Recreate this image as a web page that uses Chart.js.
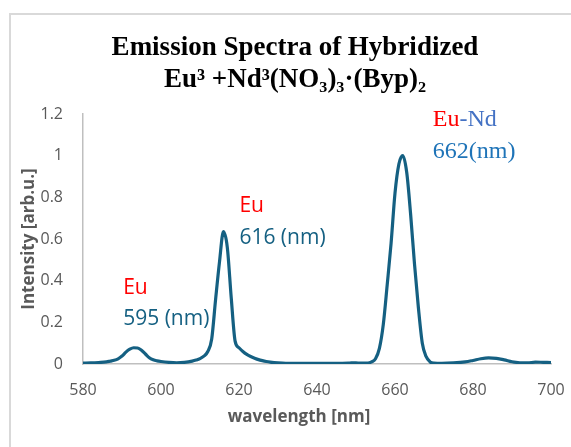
<!DOCTYPE html>
<html>
<head>
<meta charset="utf-8">
<script src="https://cdn.jsdelivr.net/npm/chart.js@4.4.1/dist/chart.umd.min.js"></script>
<style>
  html, body { margin: 0; padding: 0; background: #fff; overflow: hidden; }
  #wrap { position: relative; width: 571px; height: 447px; }
</style>
</head>
<body>
<div id="wrap"><canvas id="spectrumChart" width="571" height="447"></canvas></div>
<script>
// spectrum (nm, arb.u.)
const wavelength = [
  580, 582, 584, 586, 587, 588, 589, 590, 591, 592,
  593, 594, 595, 596, 597, 598, 599, 600, 602, 604,
  606, 608, 609, 610, 611, 612, 613, 614, 615, 616,
  617, 618, 619, 620, 621, 622, 623, 624, 625, 626,
  627, 628, 630, 632, 635, 640, 645, 648, 650, 651,
  653, 654, 655, 656, 657, 658, 659, 660, 661, 662,
  663, 664, 665, 666, 667, 668, 669, 670, 672, 675,
  678, 680, 682, 684, 686, 688, 690, 692, 694, 696,
  698, 700
];
const intensity = [
  0.004, 0.005, 0.007, 0.010, 0.014, 0.018, 0.025, 0.038, 0.057, 0.071,
  0.078, 0.077, 0.066, 0.048, 0.030, 0.020, 0.015, 0.012, 0.008, 0.006,
  0.008, 0.014, 0.019, 0.026, 0.038, 0.060, 0.120, 0.310, 0.490, 0.635,
  0.560, 0.320, 0.110, 0.078, 0.060, 0.046, 0.036, 0.028, 0.021, 0.016,
  0.012, 0.009, 0.005, 0.003, 0.003, 0.003, 0.003, 0.004, 0.006, 0.004,
  0.004, 0.010, 0.025, 0.075, 0.190, 0.380, 0.580, 0.820, 0.960, 1.000,
  0.920, 0.720, 0.480, 0.270, 0.100, 0.035, 0.010, 0.004, 0.003, 0.005,
  0.010, 0.017, 0.025, 0.029, 0.027, 0.020, 0.011, 0.006, 0.005, 0.009,
  0.008, 0.007
];
const xTicks = [580, 600, 620, 640, 660, 680, 700];
const yTicks = [0, 0.2, 0.4, 0.6, 0.8, 1, 1.2];

const titleLines = ['Emission Spectra of Hybridized', 'Eu\u00B3 +Nd\u00B3(NO\u2083)\u2083\u00B7(Byp)\u2082'];
const xTitle = 'wavelength [nm]';
const yTitle = 'Intensity [arb.u.]';

// peak labels, placed in data units
const peakLabels = [
  { x: 590.3, y: 0.366, parts: [['Eu', '#ff0000']], font: '21px "Open Sans"' },
  { x: 590.3, y: 0.218, parts: [['595 (nm)', '#156082']], font: '21px "Open Sans"' },
  { x: 620.1, y: 0.757, parts: [['Eu', '#ff0000']], font: '21px "Open Sans"' },
  { x: 620.1, y: 0.607, parts: [['616 (nm)', '#156082']], font: '21px "Open Sans"' },
  { x: 669.7, y: 1.171, parts: [['Eu', '#ff0000'], ['-Nd', '#4472c4']], font: '24px "Liberation Serif"' },
  { x: 669.7, y: 1.018, parts: [['662(nm)', '#1f74b8']], font: '24px "Liberation Serif"' }
];

const greyText = '#595959';

const decorPlugin = {
  id: 'decor',
  beforeDraw(chart) {
    const ctx = chart.ctx;
    ctx.save();
    // outer frame (the chart is cropped, only top and left edges show)
    ctx.strokeStyle = '#d9d9d9';
    ctx.lineWidth = 2;
    ctx.strokeRect(10, 14, 700, 600);
    ctx.restore();
  },
  afterDraw(chart) {
    const ctx = chart.ctx;
    const xs = chart.scales.x, ys = chart.scales.y;
    ctx.save();
    // main title
    ctx.fillStyle = '#000';
    ctx.font = 'bold 27px "Liberation Serif"';
    ctx.textAlign = 'center';
    ctx.textBaseline = 'alphabetic';
    ctx.fillText(titleLines[0], 295, 55);
    ctx.fillText(titleLines[1], 295, 87);

    // x axis title
    ctx.fillStyle = greyText;
    ctx.font = 'bold 17px "Open Sans"';
    ctx.textBaseline = 'middle';
    ctx.fillText(xTitle, 299, 417);

    // peak labels
    ctx.textAlign = 'left';
    peakLabels.forEach(l => {
      ctx.font = l.font;
      let px = xs.getPixelForValue(l.x);
      const py = ys.getPixelForValue(l.y);
      l.parts.forEach(([txt, col]) => {
        ctx.fillStyle = col;
        ctx.fillText(txt, px, py);
        px += ctx.measureText(txt).width;
      });
    });
    ctx.restore();
  }
};

const ctx = document.getElementById('spectrumChart').getContext('2d');
const spectrumChart = new Chart(ctx, {
  type: 'line',
  data: {
    datasets: [{
      label: 'Emission',
      data: wavelength.map((w, i) => ({ x: w, y: intensity[i] })),
      borderColor: '#156082',
      borderWidth: 3.2,
      pointRadius: 0,
      fill: false,
      cubicInterpolationMode: 'monotone'
    }]
  },
  options: {
    responsive: false,
    animation: false,
    layout: { padding: { top: 114, left: 15, right: 20, bottom: 0 } },
    plugins: {
      legend: { display: false },
      tooltip: { enabled: false }
    },
    scales: {
      x: {
        type: 'linear',
        min: 580,
        max: 700,
        afterBuildTicks: s => { s.ticks = xTicks.map(v => ({ value: v })); },
        afterFit: s => { s.height = 83; s.paddingLeft = 0; s.paddingRight = 0; },
        grid: { display: false, drawTicks: false },
        border: { display: true, color: '#bfbfbf', width: 1.5 },
        ticks: {
          color: greyText,
          font: { family: 'Open Sans', size: 16 },
          padding: 17,
          maxRotation: 0,
          callback: v => String(v)
        }
      },
      y: {
        min: 0,
        max: 1.2,
        afterBuildTicks: s => { s.ticks = yTicks.map(v => ({ value: v })); },
        afterFit: s => { s.width = 68; s.paddingTop = 0; s.paddingBottom = 0; },
        grid: { display: false, drawTicks: false },
        border: { display: true, color: '#bfbfbf', width: 1.5 },
        ticks: {
          color: greyText,
          font: { family: 'Open Sans', size: 16 },
          padding: 20,
          callback: v => String(v)
        },
        title: {
          display: true,
          text: yTitle,
          color: greyText,
          font: { family: 'Open Sans', size: 17, weight: 'bold' },
          padding: { top: 4, bottom: 4 }
        }
      }
    }
  },
  plugins: [decorPlugin]
});
</script>
</body>
</html>
